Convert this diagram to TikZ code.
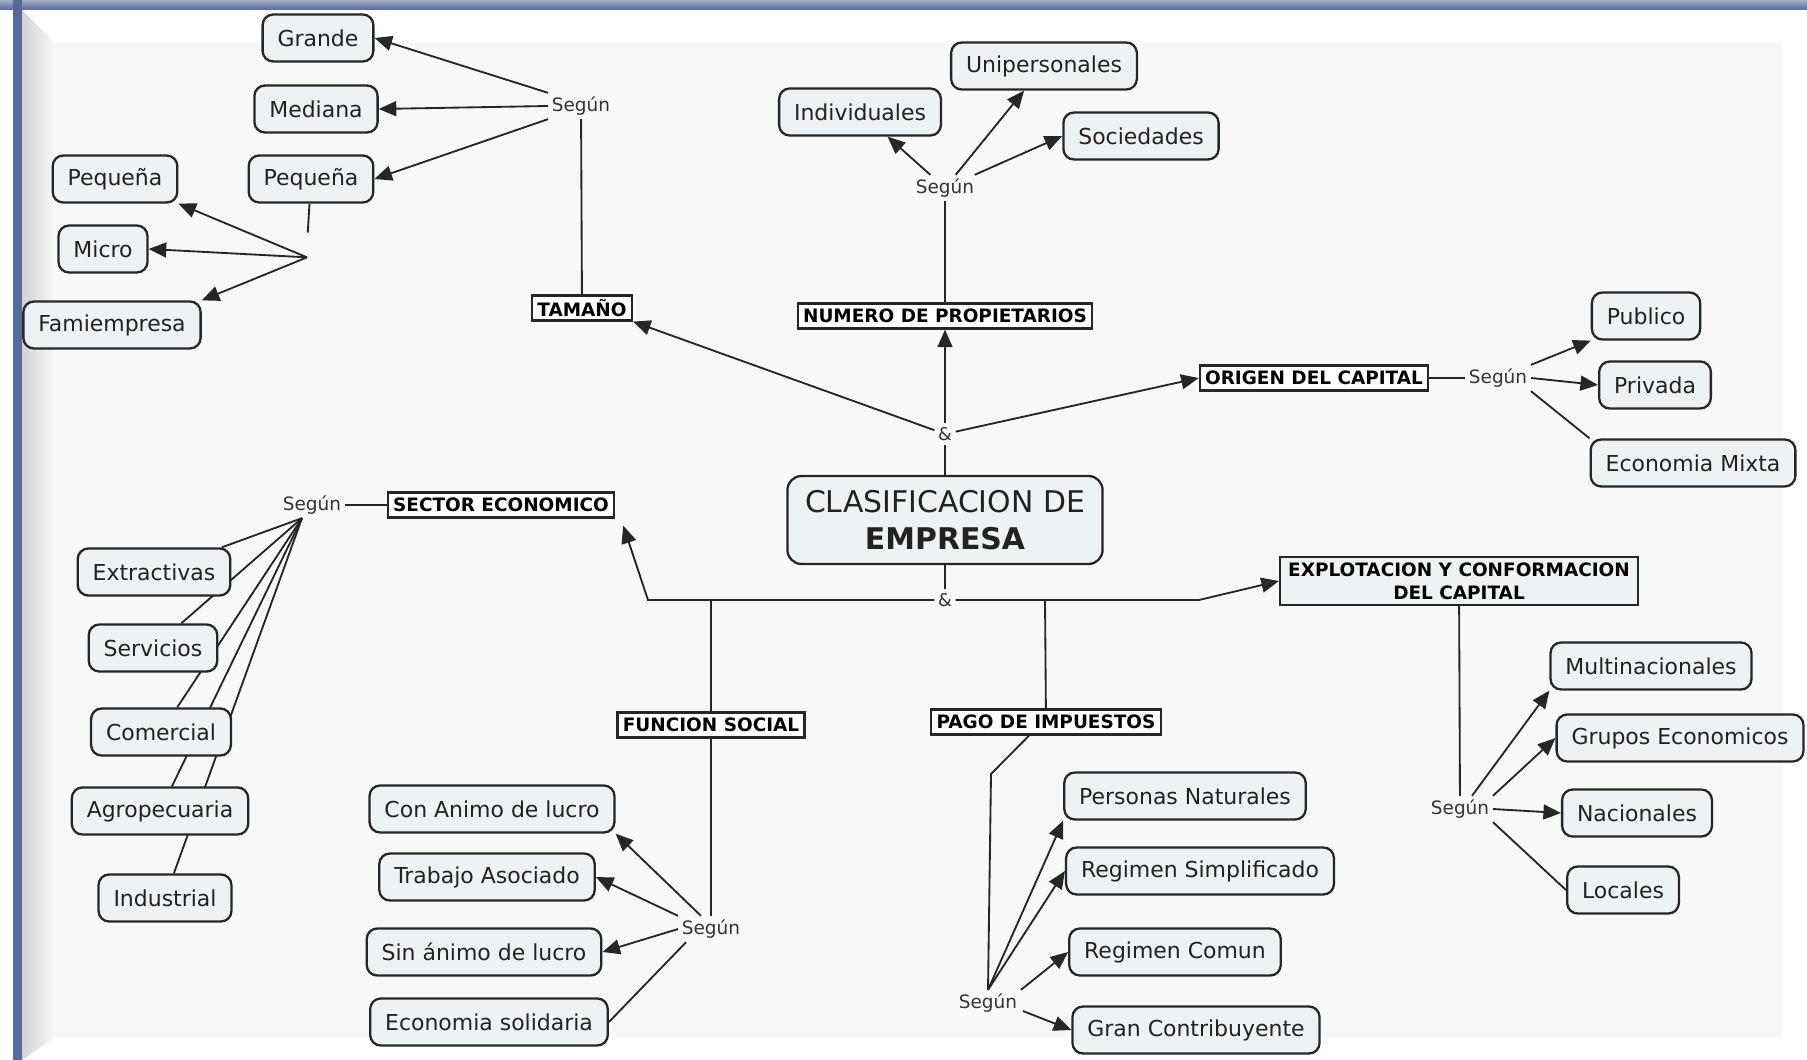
\documentclass[tikz,border=0pt]{standalone}
\usepackage{fontspec}
\setmainfont{DejaVu Sans}
\usetikzlibrary{arrows.meta}

\pgfdeclarelayer{frame}
\pgfdeclarelayer{links}
\pgfsetlayers{frame,links,main}

\definecolor{conceptfill}{HTML}{EDF2F5}
\definecolor{linegray}{HTML}{262626}
\definecolor{textgray}{HTML}{222222}
\definecolor{innergray}{HTML}{F8F8F8}
\definecolor{barblue}{HTML}{566A99}

\begin{document}
\begin{tikzpicture}[
    x=0.02cm, y=-0.02cm,
    concept/.style = {rectangle, draw=linegray, line width=1.3pt, rounded corners=6pt, fill=conceptfill, text=textgray, inner xsep=8.5pt, minimum height=0.94cm, font=\fontsize{12.5}{15}\selectfont},
    category/.style = {rectangle, draw=black!85, line width=1.3pt, fill=white, inner xsep=3pt, inner ysep=2pt, minimum height=0.5cm, font=\fontsize{10.5}{13}\selectfont\bfseries},
    phrase/.style = {inner sep=2pt, text=black!80, font=\fontsize{10.5}{12}\selectfont},
    conn/.style = {draw=linegray, line width=1.05pt},
    >={Triangle[length=10pt, width=8.5pt]}]

    % frame
    \begin{pgfonlayer}{frame}
        \fill[white] (0,0) rectangle (1807,1060);
        \fill[innergray] (55,43) rectangle (1783,1037);
        \shade[left color=gray!35, right color=gray!5] (22,10) -- (55,43) -- (55,1037) -- (22,1060) -- cycle;
        \shade[top color=barblue!55, bottom color=barblue] (0,0) rectangle (1807,10);
        \fill[barblue] (13,0) rectangle (22,1060);
    \end{pgfonlayer}

    % centre
    \node[concept, align=center, inner xsep=10pt, minimum height=1.76cm, rounded corners=8pt, font=\fontsize{17}{21}\selectfont] (clas) at (945,520) {CLASIFICACION DE\\\textbf{EMPRESA}};
    \node[phrase, font=\fontsize{10}{12}\selectfont] (amp1) at (945,434) {\&};
    \node[phrase, font=\fontsize{10}{12}\selectfont] (amp2) at (945,600) {\&};

    % tamano
    \node[category] (tam) at (582,308) {TAMAÑO};
    \node[phrase] (segtam) at (581,106) {Según};
    \node[concept] (grande) at (318,38) {Grande};
    \node[concept] (mediana) at (316,109) {Mediana};
    \node[concept] (peqb) at (311,179) {Pequeña};
    \node[inner sep=0pt, minimum width=0.1cm, minimum height=0.48cm] (lnkpeq) at (307,245) {};
    \node[concept] (peqa) at (115,179) {Pequeña};
    \node[concept] (micro) at (103,249) {Micro};
    \node[concept] (fami) at (112,325) {Famiempresa};

    % propietarios
    \node[category] (num) at (945,316) {NUMERO DE PROPIETARIOS};
    \node[phrase] (segpro) at (945,188) {Según};
    \node[concept] (indiv) at (860,112) {Individuales};
    \node[concept] (unip) at (1044,66) {Unipersonales};
    \node[concept] (soc) at (1141,136) {Sociedades};

    % origen
    \node[category] (ori) at (1314,378) {ORIGEN DEL CAPITAL};
    \node[phrase] (segori) at (1498,378) {Según};
    \node[concept] (pub) at (1646,316) {Publico};
    \node[concept] (priv) at (1655,385) {Privada};
    \node[concept] (mixta) at (1693,463) {Economia Mixta};

    % sector
    \node[category] (sec) at (501,505) {SECTOR ECONOMICO};
    \node[phrase] (segsec) at (312,505) {Según};
    \node[concept] (extr) at (154,572) {Extractivas};
    \node[concept] (serv) at (153,648) {Servicios};
    \node[concept] (comer) at (161,732) {Comercial};
    \node[concept] (agro) at (160,811) {Agropecuaria};
    \node[concept] (indus) at (165,898) {Industrial};

    % funcion social
    \node[category] (fun) at (711,725) {FUNCION SOCIAL};
    \node[phrase] (segfun) at (711,929) {Según};
    \node[concept] (conan) at (492,809) {Con Animo de lucro};
    \node[concept] (trab) at (487,877) {Trabajo Asociado};
    \node[concept] (sinan) at (484,952) {Sin ánimo de lucro};
    \node[concept] (solid) at (489,1022) {Economia solidaria};

    % impuestos
    \node[category] (pago) at (1046,722) {PAGO DE IMPUESTOS};
    \node[phrase] (segpag) at (988,1003) {Según};
    \node[concept] (pers) at (1185,796) {Personas Naturales};
    \node[concept] (rsim) at (1200,871) {Regimen Simplificado};
    \node[concept] (rcom) at (1175,952) {Regimen Comun};
    \node[concept] (gcon) at (1196,1030) {Gran Contribuyente};

    % explotacion
    \node[category, fill=conceptfill, align=center, minimum width=7.16cm, minimum height=0.96cm] (expl) at (1459,581) {EXPLOTACION Y CONFORMACION\\DEL CAPITAL};
    \node[phrase] (segexp) at (1460,809) {Según};
    \node[concept] (multi) at (1651,666) {Multinacionales};
    \node[concept] (grupos) at (1680,738) {Grupos Economicos};
    \node[concept] (nac) at (1637,813) {Nacionales};
    \node[concept] (loc) at (1623,890) {Locales};

    \coordinate (bendsec) at (648,600);
    \coordinate (bendexp) at (1199,600);
    \coordinate (forkfun) at (711,600);
    \coordinate (forkpag) at (1045,600);
    \coordinate (bendpag) at (991,774);

    \begin{pgfonlayer}{links}
        % upper half
        \draw[conn] (clas) -- (amp1);
        \draw[conn, ->] (amp1) -- (tam.south east);
        \draw[conn, ->] (amp1) -- (num);
        \draw[conn, ->] (amp1) -- (ori.west);
        \draw[conn] (tam) -- (segtam);
        \draw[conn, ->] (segtam.north west) -- (grande.east);
        \draw[conn, ->] (segtam.west) -- (mediana.east);
        \draw[conn, ->] (segtam.south west) -- (peqb.east);
        \draw[conn] (peqb) -- (lnkpeq);
        \draw[conn, ->] (lnkpeq.south) -- (peqa.south east);
        \draw[conn, ->] (lnkpeq.south) -- (micro.east);
        \draw[conn, ->] (lnkpeq.south) -- (fami.north east);
        \draw[conn] (num) -- (segpro);
        \draw[conn, ->] (segpro) -- (indiv);
        \draw[conn, ->] (segpro) -- (unip);
        \draw[conn, ->] (segpro) -- (soc.west);
        \draw[conn] (ori) -- (segori);
        \draw[conn, ->] (segori.north east) -- (pub.south west);
        \draw[conn, ->] (segori.east) -- (priv.west);
        \draw[conn] (segori.south east) -- (mixta.north west);

        % lower half
        \draw[conn] (clas) -- (amp2);
        \draw[conn, ->] (amp2) -- (bendsec) -- ([shift={(8,7)}]sec.south east);
        \draw[conn, ->] (amp2) -- (bendexp) -- (expl.west);
        \draw[conn] (forkfun) -- (fun);
        \draw[conn] (forkpag) -- (pago);
        \draw[conn] (sec) -- (segsec);
        \foreach \tgt in {extr, serv, comer, agro, indus}
            \draw[conn] ([shift={(-10,0)}]segsec.south) -- (\tgt);
        \draw[conn] (fun) -- (segfun);
        \draw[conn, ->] ([shift={(-10,0)}]segfun.north) -- (conan.south east);
        \draw[conn, ->] (segfun.north west) -- (trab.east);
        \draw[conn, ->] (segfun.west) -- (sinan.east);
        \draw[conn] ([shift={(8,0)}]segfun.south west) -- (solid.east);
        \draw[conn] ([shift={(-17,0)}]pago.south) -- (bendpag) -- (segpag.north);
        \draw[conn, ->] (segpag.north) -- (pers.south west);
        \draw[conn, ->] (segpag.north) -- (rsim.west);
        \draw[conn, ->] (segpag.north east) -- (rcom.west);
        \draw[conn, ->] ([shift={(2,8)}]segpag.east) -- (gcon.west);
        \draw[conn] (expl) -- (segexp);
        \draw[conn, ->] ([shift={(12,0)}]segexp.north) -- (multi.south west);
        \draw[conn, ->] (segexp.north east) -- (grupos.west);
        \draw[conn, ->] (segexp.east) -- (nac.west);
        \draw[conn] (segexp.south east) -- (loc.west);
    \end{pgfonlayer}
\end{tikzpicture}
\end{document}
